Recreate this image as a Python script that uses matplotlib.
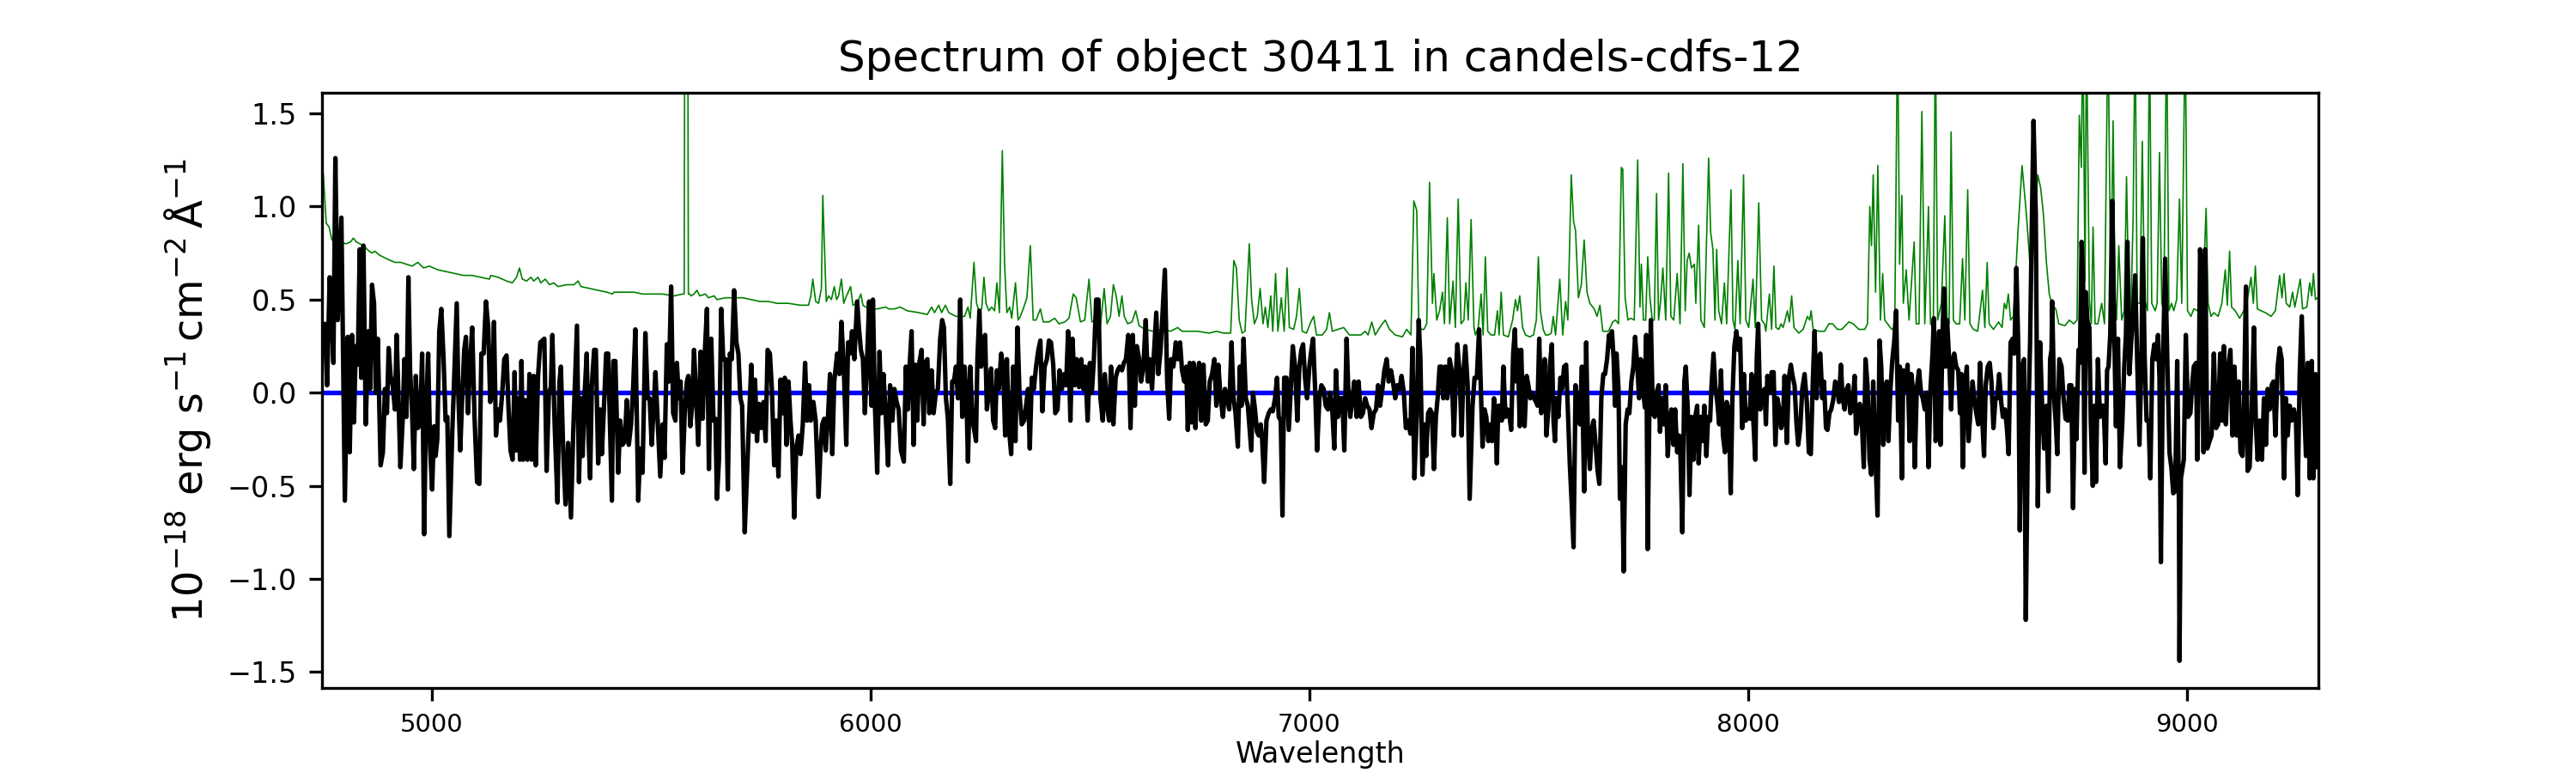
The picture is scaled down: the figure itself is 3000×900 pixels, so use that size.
import numpy as np
import matplotlib
matplotlib.use("Agg")
import matplotlib.pyplot as plt

TITLE = "Spectrum of object 30411 in candels-cdfs-12"
XLABEL = "Wavelength"
YLABEL = r"$10^{-18}$ erg s$^{-1}\,$cm$^{-2}\,\mathrm{\AA}^{-1}$"
XLIM = (4750, 9300)
YLIM = (-1.586, 1.611)
ZERO_LEVEL = 0.0

flux_points = [
    (4750.0, 0.35), (4751.8, 0.29), (4756.4, 0.37), (4761.6, 0.04), (4767.5, 0.62), (4772.7, 0.39),
    (4776.0, 0.16), (4780.5, 1.26), (4785.8, 0.39), (4794.2, 0.94), (4802.1, -0.58), (4808.6, 0.30),
    (4813.2, -0.32), (4818.4, 0.31), (4822.9, -0.16), (4826.9, 0.25), (4831.4, 0.15), (4836.0, 0.77),
    (4839.3, 0.08), (4844.5, 0.79), (4849.7, -0.17), (4855.6, 0.33), (4859.5, 0.02), (4864.0, 0.58),
    (4868.6, 0.48), (4872.5, 0.00), (4877.1, 0.29), (4883.6, -0.39), (4888.8, -0.32), (4893.4, 0.02),
    (4898.0, -0.11), (4901.9, 0.24), (4906.4, 0.09), (4911.0, 0.04), (4916.2, -0.09), (4920.1, 0.31),
    (4924.0, 0.00), (4928.6, -0.40), (4933.8, -0.15), (4937.7, 0.18), (4942.3, -0.13), (4946.9, 0.62),
    (4950.8, 0.12), (4955.4, -0.11), (4959.3, -0.41), (4963.8, 0.09), (4968.4, -0.19), (4973.6, -0.17),
    (4978.2, 0.21), (4982.8, -0.76), (4986.7, -0.14), (4991.9, 0.21), (4996.5, -0.30), (5001.0, -0.52),
    (5005.6, -0.18), (5008.9, -0.34), (5012.8, -0.25), (5017.3, 0.33), (5021.9, 0.45), (5027.1, 0.18),
    (5031.7, -0.15), (5035.6, -0.13), (5040.2, -0.77), (5046.7, -0.23), (5051.9, 0.12), (5057.1, 0.48),
    (5061.0, -0.03), (5065.0, -0.31), (5069.5, -0.03), (5074.1, 0.23), (5078.0, 0.30), (5082.6, -0.11),
    (5087.1, 0.14), (5092.3, 0.35), (5097.6, -0.13), (5103.4, -0.48), (5108.6, -0.49), (5113.2, 0.21),
    (5118.4, 0.21), (5123.7, 0.49), (5128.9, 0.35), (5133.4, -0.05), (5138.0, 0.00), (5141.9, 0.38),
    (5146.5, -0.23), (5151.1, -0.09), (5155.6, -0.15), (5160.8, 0.00), (5165.4, 0.18), (5170.6, 0.20),
    (5175.2, -0.09), (5179.7, -0.31), (5184.3, -0.36), (5188.9, 0.11), (5192.8, -0.31), (5196.7, -0.03),
    (5201.3, -0.36), (5204.5, 0.17), (5208.5, -0.36), (5213.0, -0.04), (5218.2, -0.36), (5222.8, 0.10),
    (5228.0, -0.36), (5232.6, 0.09), (5237.1, -0.39), (5242.4, 0.09), (5247.6, 0.27), (5252.2, 0.28),
    (5256.7, 0.29), (5261.9, -0.42), (5267.2, 0.00), (5271.7, 0.03), (5275.0, 0.31), (5280.2, -0.17),
    (5286.7, -0.59), (5291.3, 0.06), (5294.5, 0.14), (5299.8, -0.32), (5305.0, -0.60), (5310.9, -0.27),
    (5317.4, -0.67), (5322.6, -0.21), (5331.1, 0.36), (5335.7, -0.48), (5340.2, -0.03), (5344.1, -0.34),
    (5348.0, -0.03), (5353.3, 0.21), (5357.2, -0.23), (5361.1, -0.46), (5365.0, 0.04), (5370.2, 0.23),
    (5374.1, 0.23), (5379.4, -0.38), (5383.9, -0.09), (5387.8, -0.33), (5392.4, -0.09), (5397.6, 0.21),
    (5402.2, 0.21), (5405.5, -0.09), (5410.7, -0.58), (5414.0, 0.17),
    (5418.5, 0.17), (5425.1, -0.43), (5429.6, -0.15), (5434.8, -0.28), (5440.1, -0.26), (5444.6, -0.04),
    (5449.2, -0.28), (5454.4, -0.17), (5459.0, 0.02), (5464.2, 0.34), (5470.7, -0.58), (5475.3, -0.30),
    (5480.5, -0.43), (5487.0, 0.32), (5492.2, -0.03), (5496.8, -0.03), (5501.4, -0.28), (5506.6, -0.05),
    (5509.9, 0.11), (5515.1, -0.15), (5520.9, -0.45), (5526.2, -0.17), (5530.7, -0.35), (5535.9, 0.26),
    (5540.5, 0.06), (5545.7, 0.57), (5550.3, -0.11), (5555.5, -0.15), (5558.8, 0.16), (5563.3, -0.03),
    (5567.3, 0.06), (5571.8, -0.43), (5577.0, -0.09), (5581.6, 0.06), (5584.9, 0.09), (5589.4, -0.18),
    (5593.4, -0.07), (5597.9, 0.23), (5603.1, -0.05), (5607.7, -0.28), (5612.9, 0.22), (5617.5, -0.14),
    (5622.7, 0.23), (5627.3, 0.45), (5631.8, -0.41), (5637.1, 0.29), (5642.3, -0.15), (5646.8, -0.14),
    (5650.1, -0.57), (5654.7, -0.36), (5659.9, 0.45), (5664.4, 0.18), (5669.7, 0.18), (5674.9, -0.52),
    (5679.5, 0.21), (5684.0, 0.18), (5689.2, 0.55), (5694.5, 0.27), (5699.0, 0.21), (5703.6, -0.03),
    (5707.5, -0.07), (5713.4, -0.75), (5718.6, -0.44), (5723.2, -0.15), (5728.4, 0.15), (5732.9, -0.21),
    (5736.9, 0.07), (5741.4, -0.26), (5746.0, -0.06), (5751.2, -0.19), (5756.4, -0.05), (5761.0, -0.26),
    (5765.6, 0.23), (5770.8, 0.21), (5775.3, 0.02), (5780.6, -0.39), (5785.1, -0.15), (5790.3, -0.45),
    (5794.9, 0.07), (5800.1, -0.11), (5804.7, 0.08), (5808.6, -0.28), (5813.2, 0.06), (5817.7, -0.15),
    (5821.7, -0.28), (5826.2, -0.67), (5830.8, -0.30), (5836.0, -0.23), (5840.6, -0.33), (5845.8, -0.17),
    (5851.0, 0.16), (5855.6, -0.15), (5860.1, 0.04), (5864.1, -0.15), (5869.9, -0.05), (5875.1, -0.15),
    (5881.7, -0.56), (5886.2, -0.30), (5890.1, -0.17), (5894.7, -0.14), (5898.0, -0.31), (5903.2, -0.13),
    (5907.8, 0.10), (5913.0, -0.33), (5917.5, 0.06), (5924.1, 0.21), (5929.3, 0.10), (5933.8, 0.38),
    (5939.1, 0.14), (5944.9, -0.28), (5948.9, 0.27), (5953.4, 0.21), (5958.0, 0.33), (5963.2, 0.18),
    (5969.7, 0.49), (5973.6, 0.35), (5978.2, 0.23), (5982.8, 0.18), (5987.3, -0.11), (5991.3, 0.12),
    (5997.1, 0.49), (6002.3, -0.07), (6005.6, 0.50), (6010.2, -0.07), (6015.4, -0.43), (6020.6, 0.22),
    (6025.2, -0.11), (6029.7, 0.10), (6034.9, -0.13), (6040.2, -0.39), (6044.7, 0.04), (6050.0, -0.15),
    (6054.5, 0.02), (6059.7, -0.05), (6064.3, -0.09), (6069.5, -0.31),
    (6076.1, -0.37), (6080.7, 0.14), (6085.2, -0.09), (6089.1, 0.14), (6093.7, 0.33), (6098.3, -0.28),
    (6102.2, 0.15), (6106.7, -0.15), (6111.3, 0.16), (6116.5, 0.23), (6121.1, -0.17), (6125.0, 0.16),
    (6129.6, 0.18), (6134.1, -0.11), (6139.4, 0.12), (6143.9, -0.11), (6149.1, 0.00), (6153.7, 0.02),
    (6158.9, 0.29), (6163.5, 0.39), (6167.4, 0.35), (6172.0, -0.03), (6176.5, -0.14), (6181.8, -0.49),
    (6186.3, 0.06), (6190.2, 0.06), (6194.8, 0.14), (6199.4, -0.03), (6204.6, 0.50), (6209.2, -0.13),
    (6214.4, 0.14), (6218.9, -0.03), (6222.2, -0.37), (6227.4, 0.14), (6232.6, -0.15), (6237.2, -0.21),
    (6240.5, -0.26), (6243.7, 0.18), (6248.3, 0.44), (6252.2, 0.14), (6256.8, 0.29), (6261.3, 0.31),
    (6265.3, -0.09), (6269.8, 0.00), (6275.0, 0.13), (6279.6, -0.15), (6284.2, -0.19), (6288.1, 0.12),
    (6292.7, 0.02), (6297.9, 0.21), (6302.4, 0.14), (6307.0, -0.23), (6310.9, 0.18), (6315.5, -0.19),
    (6320.7, -0.33), (6325.3, 0.14), (6330.5, -0.26), (6335.1, 0.35), (6339.6, 0.00), (6344.8, -0.17),
    (6350.1, -0.15), (6354.6, -0.07), (6359.2, 0.02), (6363.1, -0.30), (6367.7, 0.08), (6372.2, 0.02),
    (6377.5, 0.14), (6382.7, 0.23), (6387.2, 0.28), (6391.8, -0.10), (6397.0, 0.14), (6402.2, 0.18),
    (6406.8, 0.28), (6411.4, 0.27), (6416.6, 0.15), (6421.2, -0.11), (6426.4, -0.09), (6430.9, 0.12),
    (6436.2, 0.02), (6441.4, 0.10), (6445.9, 0.04), (6450.5, 0.33), (6455.7, -0.15), (6460.3, 0.29),
    (6465.5, 0.04), (6470.1, 0.18), (6475.3, 0.03), (6480.5, 0.18), (6485.1, 0.02), (6489.6, 0.14),
    (6494.9, -0.15), (6500.1, 0.16), (6504.6, 0.00), (6509.2, 0.18), (6514.4, 0.50), (6519.7, 0.50),
    (6524.2, -0.03), (6529.4, -0.15), (6534.0, 0.10), (6539.2, -0.07), (6543.8, -0.15), (6548.3, 0.14),
    (6553.6, -0.17), (6558.8, 0.08), (6563.4, 0.12), (6567.9, 0.14), (6573.1, 0.12), (6577.7, 0.16),
    (6582.3, 0.18), (6587.5, 0.31), (6592.7, -0.19), (6597.9, 0.31), (6602.5, -0.07), (6607.1, 0.25),
    (6612.3, 0.18), (6616.8, 0.06), (6622.1, 0.14), (6627.3, 0.39), (6631.9, 0.06), (6636.4, 0.18),
    (6641.6, 0.02), (6646.2, 0.21), (6651.4, 0.43), (6656.0, 0.10), (6661.2, 0.23), (6671.0, 0.66),
    (6676.2, 0.06), (6680.8, -0.14), (6685.3, 0.18), (6690.5, 0.14), (6695.8, 0.27), (6700.3, 0.18),
    (6705.6, 0.27), (6710.1, 0.12), (6715.3, 0.06), (6719.9, 0.14), (6723.2, -0.20),
    (6727.7, 0.16), (6731.6, -0.16), (6736.2, 0.16), (6740.7, -0.19), (6744.6, 0.09), (6749.2, 0.16),
    (6753.8, -0.15), (6759.0, 0.15), (6764.2, -0.17), (6768.8, -0.15), (6773.3, 0.06), (6778.6, 0.10),
    (6783.8, 0.18), (6788.3, -0.07), (6792.9, 0.15), (6798.1, -0.03), (6803.3, -0.13), (6807.9, 0.02),
    (6812.5, -0.03), (6817.7, -0.09), (6822.9, 0.27), (6827.5, -0.03), (6832.0, -0.11), (6837.3, -0.29),
    (6841.8, 0.14), (6845.7, -0.07), (6850.3, 0.29), (6855.5, -0.03), (6860.1, -0.07), (6867.9, -0.31),
    (6871.8, 0.00), (6876.4, -0.09), (6881.0, -0.21), (6884.9, -0.23), (6889.4, -0.17), (6892.7, -0.25),
    (6897.3, -0.48), (6902.5, -0.15), (6907.7, -0.11), (6912.3, -0.09), (6916.8, -0.10), (6922.1, -0.03),
    (6926.6, 0.08), (6930.5, -0.13), (6935.1, -0.15), (6939.0, -0.66), (6942.9, 0.08), (6948.2, 0.08),
    (6953.4, -0.20), (6957.9, 0.02), (6962.5, 0.25), (6967.7, 0.14), (6972.9, -0.15), (6977.5, 0.14),
    (6982.1, 0.23), (6986.0, 0.26), (6990.5, 0.08), (6995.1, -0.03), (7000.3, 0.14), (7004.9, 0.23),
    (7008.8, 0.29), (7013.4, 0.02), (7017.9, -0.31), (7023.2, -0.03), (7027.7, 0.04), (7032.9, 0.02),
    (7037.5, -0.07), (7042.7, -0.09), (7047.3, 0.00), (7052.5, -0.09), (7057.1, -0.30), (7061.0, 0.12),
    (7065.6, -0.13), (7070.1, -0.03), (7075.4, -0.03), (7079.9, -0.31), (7085.1, 0.29), (7089.7, -0.03),
    (7093.6, -0.13), (7098.2, -0.03), (7102.7, 0.06), (7108.0, -0.13), (7112.5, 0.06), (7117.7, -0.13),
    (7122.3, -0.11), (7127.5, -0.03), (7132.1, -0.07), (7137.3, -0.09), (7141.9, -0.19), (7147.1, -0.11),
    (7152.3, -0.09), (7156.9, 0.04), (7161.5, -0.07), (7166.7, 0.02), (7171.2, 0.12), (7176.5, 0.18),
    (7181.0, 0.06), (7186.2, 0.12), (7190.8, 0.06), (7196.0, -0.03), (7200.6, 0.04), (7205.8, 0.02),
    (7210.4, 0.09), (7215.6, 0.00), (7220.2, -0.19), (7225.4, -0.15), (7230.6, -0.22), (7235.2, 0.24),
    (7239.7, -0.46), (7245.0, -0.13), (7249.5, 0.39), (7253.4, 0.18), (7258.0, -0.44), (7262.6, -0.17),
    (7266.5, -0.34), (7271.0, -0.11), (7275.6, -0.09), (7279.5, -0.11), (7284.1, -0.41), (7288.7, -0.13),
    (7292.6, -0.03), (7297.1, 0.14), (7301.7, 0.14), (7305.6, -0.03), (7310.2, 0.14), (7314.7, -0.03),
    (7320.0, 0.18), (7324.5, 0.12), (7329.7, -0.23), (7334.3, 0.10), (7337.6, 0.26), (7342.8, 0.10),
    (7347.3, -0.23), (7351.3, 0.10), (7355.8, 0.25), (7361.1, 0.04), (7365.7, -0.57),
    (7372.2, -0.07), (7376.8, 0.08), (7382.0, 0.08), (7387.2, 0.34), (7391.8, -0.03), (7395.0, -0.29),
    (7399.6, -0.09), (7403.5, -0.13), (7408.1, -0.26), (7412.6, -0.17), (7416.5, -0.26), (7421.1, -0.03),
    (7424.4, -0.13), (7427.6, -0.38), (7430.9, -0.07), (7435.5, -0.07), (7438.7, -0.15), (7442.6, 0.14),
    (7447.2, -0.13), (7451.8, -0.09), (7455.7, -0.11), (7460.2, -0.20), (7464.8, 0.21), (7468.7, 0.34),
    (7472.0, 0.06), (7475.2, 0.23), (7479.8, -0.18), (7483.1, 0.23), (7487.6, -0.15), (7490.9, -0.18),
    (7495.5, 0.09), (7499.4, 0.04), (7503.9, -0.03), (7507.9, 0.00), (7512.4, -0.03), (7517.0, -0.05),
    (7520.3, -0.07), (7524.2, 0.29), (7528.7, -0.11), (7533.3, -0.03), (7536.6, 0.18), (7540.5, -0.23),
    (7545.0, -0.09), (7548.3, 0.14), (7552.9, 0.26), (7556.8, -0.15), (7560.0, -0.26), (7563.3, -0.03),
    (7567.9, -0.13), (7572.4, 0.08), (7576.4, 0.02), (7580.9, 0.14), (7585.5, 0.15), (7589.4, -0.09),
    (7594.0, -0.39), (7598.5, -0.61), (7602.4, -0.83), (7607.0, 0.04), (7611.6, -0.09), (7616.8, -0.17),
    (7621.4, 0.14), (7626.6, -0.53), (7631.2, 0.27), (7635.1, -0.23), (7639.6, -0.41), (7644.2, -0.19),
    (7648.1, -0.15), (7652.7, -0.28), (7657.2, -0.42), (7661.2, -0.49), (7665.7, -0.03), (7670.3, 0.10),
    (7674.2, 0.10), (7678.8, 0.18), (7683.3, 0.31), (7686.6, 0.25), (7689.9, 0.33), (7693.8, 0.18),
    (7697.0, -0.07), (7700.3, 0.21), (7704.9, 0.02), (7708.1, -0.57), (7712.7, -0.40), (7716.6, -0.96),
    (7721.2, -0.17), (7725.7, -0.09), (7729.6, -0.11), (7734.2, 0.06), (7738.8, 0.14), (7742.7, 0.30),
    (7747.3, 0.16), (7751.8, -0.03), (7755.7, 0.18), (7760.3, 0.04), (7764.9, -0.08), (7768.1, 0.31),
    (7771.4, -0.84), (7775.3, -0.07), (7778.6, 0.39), (7783.1, -0.11), (7787.7, -0.13), (7791.6, 0.00),
    (7796.2, 0.04), (7799.4, -0.21), (7804.0, -0.03), (7807.9, -0.17), (7812.5, 0.04), (7817.1, -0.34),
    (7821.0, -0.17), (7825.5, -0.09), (7830.1, -0.28), (7834.0, -0.09), (7838.6, -0.32), (7843.1, -0.23),
    (7846.4, -0.36), (7850.3, -0.75), (7854.9, 0.06), (7858.2, 0.14), (7862.7, -0.09), (7866.6, -0.55),
    (7871.2, -0.13), (7875.8, -0.36), (7879.7, -0.13), (7884.2, -0.07), (7887.5, -0.38), (7892.1, -0.13),
    (7896.0, -0.26), (7900.5, -0.07), (7905.1, -0.34), (7909.0, -0.13), (7913.6, -0.15), (7916.9, 0.04),
    (7921.4, 0.21), (7925.3, 0.04), (7929.9, -0.05), (7934.5, -0.17), (7938.4, 0.12), (7942.9, -0.23),
    (7947.5, -0.32), (7951.4, -0.05), (7956.0, -0.09), (7960.6, -0.54), (7964.5, -0.03), (7969.0, 0.25),
    (7973.6, 0.33), (7977.5, 0.23), (7982.1, 0.29), (7986.7, -0.19), (7990.6, 0.10), (7995.1, -0.15),
    (7999.7, -0.09), (8003.6, -0.14), (8008.2, 0.10), (8012.1, -0.15), (8016.7, -0.36), (8019.9, 0.18),
    (8023.2, 0.37),
    (8027.8, -0.09), (8032.4, 0.00), (8037.6, 0.02), (8040.8, -0.17), (8044.1, 0.09), (8048.7, 0.00),
    (8053.9, 0.11), (8058.4, 0.11), (8062.4, -0.28), (8066.9, -0.03), (8071.5, -0.09), (8075.4, -0.19),
    (8080.0, -0.15), (8083.2, 0.09), (8088.4, -0.27), (8093.0, 0.08), (8097.6, 0.15), (8101.5, 0.09),
    (8106.1, 0.04), (8110.6, -0.17), (8114.5, -0.28), (8119.1, -0.19), (8123.7, 0.02), (8128.9, 0.10),
    (8134.1, -0.05), (8138.7, -0.32), (8143.2, -0.33), (8147.2, 0.02), (8151.7, 0.33), (8156.3, -0.03),
    (8160.2, 0.18), (8164.8, 0.21), (8169.3, -0.03), (8173.2, 0.06), (8177.8, -0.19), (8181.1, -0.20),
    (8185.6, -0.11), (8189.6, -0.09), (8194.1, -0.04), (8198.7, 0.06), (8202.6, 0.04), (8207.2, -0.05),
    (8211.7, 0.15), (8215.6, -0.03), (8220.2, -0.09), (8224.8, 0.02), (8228.7, 0.04), (8233.3, -0.11),
    (8237.8, -0.09), (8243.0, 0.09), (8246.3, -0.22), (8250.9, -0.15), (8254.8, -0.06), (8259.4, -0.15),
    (8263.9, -0.40), (8267.8, 0.18), (8272.4, 0.04), (8277.0, -0.36), (8280.9, -0.44), (8285.4, 0.06),
    (8290.7, -0.36), (8295.2, -0.66), (8299.8, 0.28), (8303.7, 0.14), (8308.3, -0.28), (8311.5, -0.03),
    (8316.1, 0.06), (8320.0, -0.26), (8324.6, 0.02), (8329.1, 0.18), (8333.1, 0.27), (8337.6, 0.44),
    (8342.2, -0.15), (8346.1, 0.14), (8350.7, -0.46), (8353.9, 0.12), (8358.5, 0.02), (8363.7, 0.15),
    (8368.3, -0.26), (8372.2, 0.10), (8376.8, 0.00), (8380.0, -0.40), (8384.6, 0.02), (8389.8, 0.12),
    (8394.4, 0.00), (8398.3, -0.03), (8402.9, -0.09), (8407.4, 0.00), (8411.3, -0.40), (8415.9, 0.02),
    (8420.5, 0.21), (8423.7, 0.40), (8427.6, -0.26), (8430.9, -0.17), (8435.5, 0.33), (8438.7, -0.28),
    (8443.3, 0.31), (8446.6, 0.56), (8449.8, 0.14), (8453.7, 0.39), (8458.3, 0.18), (8462.9, -0.09),
    (8466.8, 0.18), (8470.0, 0.21), (8474.6, 0.14), (8479.2, 0.12), (8483.1, -0.11), (8486.4, 0.10),
    (8489.6, -0.40), (8494.2, 0.04), (8498.7, 0.14), (8502.7, -0.26), (8507.2, -0.09), (8511.8, 0.06),
    (8515.7, -0.03), (8520.3, -0.11), (8524.8, -0.17), (8528.8, 0.16), (8533.3, -0.11), (8537.9, -0.34),
    (8541.8, 0.04), (8546.4, 0.14), (8550.9, 0.16), (8554.8, 0.06), (8559.4, -0.19), (8564.0, -0.03),
    (8567.9, -0.03), (8572.5, 0.10), (8577.0, -0.05), (8580.9, -0.13), (8585.5, -0.09), (8590.1, -0.19),
    (8594.0, -0.33), (8598.5, 0.27), (8603.1, 0.29), (8607.0, 0.21), (8611.6, 0.67), (8616.2, 0.23),
    (8619.4, -0.74), (8624.6, 0.14), (8629.2, 0.18), (8633.1, -1.22), (8637.7, -0.26), (8642.9, 0.27),
    (8647.5, 1.00), (8650.7, 1.46), (8655.9, 0.96), (8660.5, -0.61), (8665.7, 0.27), (8670.3, -0.07),
    (8674.9, -0.30), (8680.1, -0.07), (8684.6, -0.53), (8688.6, 0.18), (8691.8, 0.23),
    (8693.2, 0.49), (8697.7, -0.03), (8701.6, -0.17), (8704.9, -0.33), (8709.5, 0.18), (8714.7, 0.14),
    (8719.2, -0.03), (8723.8, -0.14), (8729.0, -0.15), (8732.3, 0.04), (8736.9, 0.04), (8740.8, -0.62),
    (8745.3, 0.02), (8748.6, -0.25), (8753.2, 0.23), (8756.4, 0.16), (8760.3, 0.81), (8763.6, 0.62),
    (8766.9, -0.43), (8770.1, 0.54), (8773.4, 0.39), (8778.0, 0.35), (8781.2, -0.15), (8785.8, -0.50),
    (8789.7, -0.07), (8793.0, -0.48), (8797.5, 0.18), (8802.1, -0.13), (8806.0, -0.07), (8810.6, -0.07),
    (8815.1, -0.38), (8818.4, 0.12), (8821.7, 0.14), (8825.6, 0.31), (8830.1, 1.03), (8834.7, 0.33),
    (8838.6, -0.18), (8843.2, 0.29), (8847.7, -0.40), (8853.0, -0.17), (8857.5, 0.14), (8861.4, 0.31),
    (8864.7, 0.81), (8869.3, 0.10), (8873.8, 0.29), (8877.8, 0.44), (8882.3, 0.63), (8886.9, 0.18),
    (8892.1, -0.28), (8896.7, 0.18), (8899.9, 0.83), (8903.8, 0.21), (8908.4, -0.15), (8913.0, -0.15),
    (8916.9, -0.46), (8921.5, 0.18), (8926.0, 0.26), (8929.9, 0.18), (8934.5, 0.31), (8937.8, 0.08),
    (8941.0, -0.91), (8945.6, 0.14), (8950.8, 0.72), (8956.0, 0.14), (8960.6, -0.32), (8965.2, -0.41),
    (8969.1, -0.54), (8973.6, -0.53), (8978.2, 0.17), (8982.1, -0.59), (8983.4, -1.44), (8986.7, -0.46),
    (8993.2, -0.36), (8997.8, 0.31), (9003.0, -0.13), (9008.2, -0.11), (9012.8, 0.06), (9016.0, 0.14),
    (9021.3, 0.16), (9023.9, -0.36), (9027.8, 0.14), (9030.4, 0.77), (9034.3, 0.60), (9038.2, -0.32),
    (9042.1, 0.77), (9046.7, -0.30), (9051.9, -0.26), (9056.5, -0.23), (9061.7, 0.21), (9066.9, -0.19),
    (9071.5, -0.17), (9076.1, 0.21), (9080.0, -0.15), (9084.5, 0.25), (9089.1, -0.17), (9094.3, 0.14),
    (9099.5, 0.23), (9104.1, -0.23), (9108.7, 0.14), (9113.9, -0.23), (9118.4, 0.06), (9122.4, -0.32),
    (9126.9, -0.34), (9130.2, -0.11), (9134.8, 0.57), (9138.7, -0.42), (9143.2, -0.40), (9147.8, -0.11),
    (9153.0, 0.35), (9157.6, -0.17), (9161.5, -0.36), (9166.1, -0.15), (9171.3, -0.36), (9175.9, -0.03),
    (9180.4, -0.28), (9184.3, 0.02), (9188.9, -0.09), (9193.5, 0.04), (9197.4, 0.06), (9202.0, -0.23),
    (9207.2, 0.14), (9211.7, 0.24), (9216.3, 0.18), (9221.5, -0.46), (9226.1, -0.03), (9230.0, -0.23),
    (9234.6, -0.07), (9239.1, -0.15), (9244.3, -0.09), (9248.9, -0.15), (9252.8, -0.55), (9257.4, 0.10),
    (9262.0, 0.41), (9267.2, -0.05), (9271.7, -0.34), (9275.7, 0.16), (9280.2, -0.46), (9284.8, 0.17),
    (9288.7, -0.46), (9293.3, 0.10), (9296.5, -0.40),
]

# Noise / sky spectrum (green), same units
noise_points = [
    (4750.5, 1.20), (4753.1, 1.17), (4759.7, 0.91), (4766.2, 0.89), (4772.7, 0.82), (4785.8, 0.81),
    (4805.3, 0.80), (4815.1, 0.81), (4821.6, 0.83), (4828.2, 0.81), (4844.5, 0.79), (4857.5, 0.76),
    (4864.0, 0.75), (4870.6, 0.76), (4880.3, 0.74), (4896.6, 0.72), (4916.2, 0.70), (4929.3, 0.70),
    (4942.3, 0.69), (4955.4, 0.68), (4968.4, 0.70), (4981.5, 0.67), (4994.5, 0.68), (5014.1, 0.66),
    (5033.6, 0.65), (5053.2, 0.64), (5072.8, 0.63), (5092.3, 0.63), (5111.9, 0.62), (5131.5, 0.61),
    (5134.7, 0.63), (5151.1, 0.62), (5170.6, 0.60), (5183.7, 0.59), (5193.4, 0.62), (5200.0, 0.67),
    (5206.5, 0.61), (5216.3, 0.60), (5226.1, 0.62), (5232.6, 0.60), (5242.4, 0.62), (5248.9, 0.59),
    (5258.7, 0.61), (5268.5, 0.58), (5278.2, 0.59), (5288.0, 0.57), (5307.6, 0.58), (5323.9, 0.58),
    (5333.7, 0.60), (5340.2, 0.57), (5359.8, 0.56), (5379.4, 0.55), (5399.0, 0.54), (5412.0, 0.53),
    (5415.3, 0.54), (5438.1, 0.54), (5460.9, 0.54), (5480.5, 0.53), (5506.6, 0.53), (5526.2, 0.53),
    (5552.3, 0.52), (5571.8, 0.53), (5575.5, 0.53), (5577.5, 3.00), (5583.0, 3.00), (5585.0, 0.53),
    (5588.1, 0.53), (5591.4, 0.52), (5597.9, 0.53), (5604.4, 0.55), (5611.0, 0.52), (5624.0, 0.53),
    (5630.5, 0.51), (5643.6, 0.52), (5650.1, 0.50), (5669.7, 0.51), (5689.2, 0.51), (5708.8, 0.51),
    (5728.4, 0.50), (5747.9, 0.49), (5767.5, 0.49), (5787.1, 0.48), (5813.2, 0.48), (5839.3, 0.47),
    (5858.8, 0.47), (5864.1, 0.52), (5868.6, 0.61), (5875.1, 0.49), (5881.7, 0.48), (5888.2, 0.56),
    (5891.4, 1.06), (5894.7, 0.81), (5899.3, 0.49), (5904.5, 0.52), (5911.0, 0.50), (5917.5, 0.57),
    (5922.8, 0.50), (5927.3, 0.52), (5933.8, 0.61), (5939.1, 0.48), (5943.6, 0.51), (5954.7, 0.57),
    (5959.9, 0.47), (5969.7, 0.48), (5978.2, 0.53), (5982.8, 0.47), (5989.3, 0.46), (6002.3, 0.45),
    (6015.4, 0.45), (6034.9, 0.46), (6041.5, 0.45), (6054.5, 0.45), (6067.6, 0.46),
    (6083.9, 0.44), (6110.0, 0.43), (6129.6, 0.42), (6139.4, 0.46), (6145.9, 0.43), (6155.7, 0.47),
    (6162.2, 0.43), (6170.7, 0.47), (6178.5, 0.43), (6194.8, 0.41), (6214.4, 0.41), (6222.2, 0.46),
    (6227.4, 0.40), (6235.9, 0.70), (6241.8, 0.48), (6247.0, 0.44), (6253.5, 0.45), (6258.7, 0.62),
    (6263.3, 0.48), (6269.8, 0.44), (6276.3, 0.46), (6282.9, 0.44), (6288.1, 0.59), (6294.0, 0.43),
    (6300.5, 1.30), (6305.7, 0.69), (6310.9, 0.43), (6317.4, 0.46), (6322.0, 0.40), (6330.5, 0.59),
    (6336.4, 0.39), (6341.6, 0.41), (6348.1, 0.45), (6356.6, 0.51), (6364.4, 0.79), (6370.9, 0.39),
    (6377.5, 0.39), (6387.2, 0.45), (6393.8, 0.38), (6406.8, 0.38), (6419.9, 0.40), (6429.6, 0.37),
    (6442.7, 0.38), (6452.5, 0.40), (6462.2, 0.53), (6468.8, 0.51), (6478.6, 0.38), (6488.3, 0.39),
    (6498.1, 0.61), (6504.6, 0.38), (6514.4, 0.39), (6524.2, 0.36), (6532.7, 0.56), (6539.2, 0.37),
    (6547.0, 0.41), (6553.6, 0.58), (6560.1, 0.52), (6566.6, 0.41), (6573.1, 0.52), (6578.4, 0.41),
    (6586.2, 0.37), (6596.0, 0.38), (6604.5, 0.44), (6612.3, 0.36), (6625.3, 0.34), (6644.9, 0.33),
    (6664.5, 0.34), (6684.0, 0.33), (6700.3, 0.35), (6710.1, 0.33), (6723.2, 0.33),
    (6745.9, 0.33), (6772.0, 0.32), (6788.3, 0.33), (6804.6, 0.32), (6820.9, 0.32), (6828.1, 0.71),
    (6834.0, 0.67), (6840.5, 0.39), (6847.0, 0.32), (6853.6, 0.33), (6863.4, 0.80), (6868.6, 0.50),
    (6875.1, 0.37), (6881.6, 0.41), (6888.1, 0.56), (6894.7, 0.37), (6899.9, 0.46), (6905.8, 0.35),
    (6912.3, 0.52), (6916.8, 0.33), (6923.4, 0.64), (6928.6, 0.33), (6936.4, 0.51), (6942.9, 0.33),
    (6949.5, 0.67), (6954.7, 0.35), (6964.5, 0.34), (6971.0, 0.41), (6977.5, 0.56), (6984.0, 0.33),
    (6993.8, 0.32), (7003.6, 0.38), (7010.1, 0.41), (7016.6, 0.31), (7029.7, 0.31), (7039.5, 0.34),
    (7046.0, 0.43), (7052.5, 0.33), (7065.6, 0.34), (7078.6, 0.35), (7091.7, 0.31), (7104.7, 0.31),
    (7117.7, 0.31), (7127.5, 0.33), (7134.1, 0.31), (7142.5, 0.38), (7150.4, 0.31), (7163.4, 0.36),
    (7173.2, 0.39), (7183.0, 0.34), (7196.0, 0.31), (7212.3, 0.30), (7222.1, 0.34), (7231.9, 0.31),
    (7238.4, 1.03), (7245.0, 0.98), (7249.5, 0.39), (7254.7, 0.34), (7261.3, 0.34), (7267.8, 0.37),
    (7274.3, 1.13), (7280.8, 0.48), (7284.1, 0.64), (7290.6, 0.39), (7297.1, 0.44), (7303.7, 0.54),
    (7308.2, 0.37), (7314.7, 0.94), (7320.0, 0.37), (7327.8, 0.60), (7333.0, 0.35), (7339.5, 1.04),
    (7346.0, 0.37), (7352.6, 0.39), (7357.1, 0.59), (7362.4, 0.39), (7368.9, 0.93), (7375.4, 0.35),
    (7378.7, 0.31), (7385.2, 0.35), (7391.8, 0.53), (7396.3, 0.31), (7401.5, 0.73), (7406.8, 0.33),
    (7414.6, 0.31), (7422.4, 0.31), (7428.9, 0.44), (7432.8, 0.31), (7437.4, 0.54), (7442.6, 0.31),
    (7453.7, 0.30), (7463.5, 0.39), (7470.0, 0.50), (7474.6, 0.44), (7479.8, 0.52), (7486.3, 0.35),
    (7492.9, 0.31), (7502.6, 0.30), (7511.1, 0.31), (7517.6, 0.39), (7522.2, 0.73), (7526.8, 0.44),
    (7533.3, 0.34), (7538.5, 0.31), (7545.0, 0.31), (7551.6, 0.32), (7556.1, 0.41), (7561.4, 0.31),
    (7571.1, 0.61), (7577.7, 0.31), (7584.2, 0.49), (7589.4, 0.39), (7597.2, 1.17), (7602.4, 0.92),
    (7607.0, 0.87), (7613.5, 0.51), (7620.1, 0.58), (7626.6, 0.82), (7633.1, 0.54), (7639.6, 0.48),
    (7649.4, 0.45), (7655.9, 0.41), (7662.5, 0.47), (7669.0, 0.33), (7682.0, 0.33), (7691.8, 0.38),
    (7698.3, 0.39), (7704.9, 0.37), (7711.4, 1.21), (7714.6, 1.20), (7719.9, 0.51), (7726.4, 0.39),
    (7732.9, 0.40), (7740.7, 0.39), (7748.6, 1.25), (7753.8, 0.46), (7757.0, 0.69), (7761.6, 0.39),
    (7766.8, 0.39), (7771.4, 0.73), (7776.6, 0.51), (7781.8, 0.39), (7786.4, 0.39), (7791.6, 1.07),
    (7796.2, 0.39), (7800.7, 0.49), (7806.0, 0.67), (7812.5, 0.39), (7819.0, 1.18), (7824.2, 0.41),
    (7830.8, 0.39), (7838.6, 0.64), (7845.1, 0.37), (7851.6, 1.23), (7856.9, 0.44), (7861.4, 0.71),
    (7866.0, 0.75), (7871.2, 0.67), (7877.7, 0.69), (7881.0, 0.48), (7887.5, 0.90), (7892.7, 0.39),
    (7900.5, 0.35), (7910.3, 1.26), (7914.9, 0.86), (7920.1, 0.77), (7924.7, 0.39), (7928.6, 0.77),
    (7933.2, 0.44), (7939.7, 0.37), (7946.2, 0.59), (7951.4, 0.37), (7961.2, 1.09), (7965.8, 0.39),
    (7970.3, 0.34), (7976.9, 0.71), (7982.1, 0.37), (7989.9, 1.17), (7995.1, 0.39), (8001.6, 0.35),
    (8011.4, 0.61), (8016.7, 0.35), (8024.5, 1.02), (8031.0, 0.39), (8037.5, 0.37),
    (8040.8, 0.33), (8048.7, 0.53), (8053.9, 0.34), (8059.1, 0.68), (8063.7, 0.35), (8070.2, 0.34),
    (8075.4, 0.37), (8080.0, 0.35), (8084.5, 0.39), (8089.8, 0.44), (8094.3, 0.38), (8099.5, 0.52),
    (8104.8, 0.35), (8115.8, 0.32), (8125.6, 0.34), (8135.4, 0.41), (8140.6, 0.39), (8143.9, 0.44),
    (8148.5, 0.34), (8161.5, 0.33), (8174.6, 0.33), (8184.3, 0.37), (8192.8, 0.37), (8203.9, 0.34),
    (8213.7, 0.34), (8230.0, 0.38), (8239.8, 0.37), (8252.8, 0.34), (8265.9, 0.34), (8272.4, 0.37),
    (8277.6, 1.00), (8281.5, 0.79), (8285.4, 1.17), (8290.7, 0.54), (8295.9, 1.22), (8301.8, 0.39),
    (8307.0, 0.64), (8311.5, 0.39), (8318.1, 0.37), (8327.8, 0.34), (8334.4, 0.35), (8340.9, 2.00),
    (8345.5, 0.69), (8350.7, 1.06), (8353.9, 0.48), (8360.5, 0.66), (8367.0, 0.39), (8378.7, 0.81),
    (8383.3, 0.37), (8389.8, 0.37), (8396.3, 1.51), (8402.9, 0.37), (8411.3, 1.00), (8415.9, 0.37),
    (8422.4, 0.35), (8427.0, 2.00), (8432.2, 0.39), (8440.7, 0.48), (8448.5, 0.95), (8453.7, 0.39),
    (8458.3, 0.37), (8462.9, 1.40), (8468.1, 0.39), (8474.6, 0.37), (8482.4, 0.37), (8489.0, 0.72),
    (8494.2, 0.39), (8500.7, 1.09), (8505.9, 0.37), (8513.7, 0.34), (8523.5, 0.33), (8534.6, 0.55),
    (8539.8, 0.35), (8545.1, 0.70), (8549.6, 0.37), (8559.4, 0.34), (8571.2, 0.38), (8579.0, 0.35),
    (8584.2, 0.48), (8588.8, 0.45), (8593.3, 0.53), (8598.5, 0.39), (8605.1, 0.41), (8614.9, 0.85),
    (8624.6, 1.22), (8634.4, 0.96), (8644.2, 0.64), (8654.0, 0.96), (8660.5, 1.17), (8667.0, 1.10),
    (8673.6, 0.95), (8680.1, 0.70), (8686.6, 0.53), (8693.2, 0.47), (8701.6, 0.45),
    (8708.2, 0.37), (8722.5, 0.36), (8732.3, 0.39), (8742.1, 0.37), (8749.9, 0.39), (8755.1, 1.49),
    (8759.7, 1.21), (8763.0, 2.00), (8768.2, 0.60), (8771.4, 2.00), (8778.0, 0.50), (8782.5, 0.37),
    (8786.4, 0.89), (8791.0, 0.37), (8797.5, 0.37), (8806.0, 0.48), (8812.5, 0.37), (8820.4, 2.00),
    (8826.9, 0.52), (8832.1, 1.46), (8836.7, 0.50), (8839.9, 0.39), (8845.1, 0.79), (8851.7, 0.39),
    (8857.5, 0.44), (8862.7, 1.16), (8868.0, 0.48), (8872.5, 0.44), (8877.8, 0.94), (8882.3, 2.00),
    (8886.9, 0.48), (8893.4, 0.48), (8898.6, 1.35), (8903.8, 0.50), (8910.4, 0.44), (8914.9, 2.00),
    (8920.2, 0.48), (8928.0, 0.44), (8932.5, 0.48), (8937.8, 1.29), (8943.0, 0.48), (8947.6, 0.44),
    (8954.1, 2.00), (8959.3, 0.44), (8965.2, 0.48), (8970.4, 0.44), (8976.9, 0.50), (8983.4, 1.04),
    (8988.6, 0.48), (8996.5, 2.00), (9001.7, 0.44), (9009.5, 0.41), (9016.0, 0.45), (9025.8, 0.44),
    (9035.6, 0.45), (9044.1, 0.99), (9048.7, 0.48), (9055.2, 0.41), (9061.7, 0.43), (9071.5, 0.41),
    (9080.0, 0.48), (9087.8, 0.66), (9092.4, 0.47), (9097.6, 0.76), (9102.1, 0.46), (9110.6, 0.44),
    (9120.4, 0.40), (9130.2, 0.44), (9136.7, 0.48), (9146.5, 0.62), (9151.7, 0.48), (9156.3, 0.68),
    (9160.9, 0.45), (9169.3, 0.44), (9179.1, 0.43), (9192.2, 0.41), (9202.0, 0.44), (9211.7, 0.63),
    (9217.0, 0.51), (9221.5, 0.64), (9226.7, 0.48), (9234.6, 0.46), (9241.1, 0.54), (9246.3, 0.46),
    (9258.7, 0.61), (9264.0, 0.45), (9273.7, 0.46), (9280.2, 0.59), (9284.8, 0.52), (9288.7, 0.64),
    (9293.3, 0.50), (9297.8, 0.51),
]

flux_wave, flux = np.array(flux_points).T
noise_wave, noise = np.array(noise_points).T

fig, ax = plt.subplots(figsize=(10, 3), dpi=300)
fig.subplots_adjust(left=0.125, right=0.9, top=0.88, bottom=0.11)

ax.axhline(ZERO_LEVEL, color="b", lw=1.3)
ax.plot(noise_wave, noise, color="g", lw=0.4)
ax.plot(flux_wave, flux, color="k", lw=1.25)

ax.set_xlim(*XLIM)
ax.set_ylim(*YLIM)
ax.set_title(TITLE, fontsize=12)
ax.set_xlabel(XLABEL, fontsize=8, labelpad=1)
ax.set_ylabel(YLABEL, fontsize=11.5)
ax.tick_params(axis="x", labelsize=7)
ax.tick_params(axis="y", labelsize=8)

fig.savefig("out.png", dpi=300)
